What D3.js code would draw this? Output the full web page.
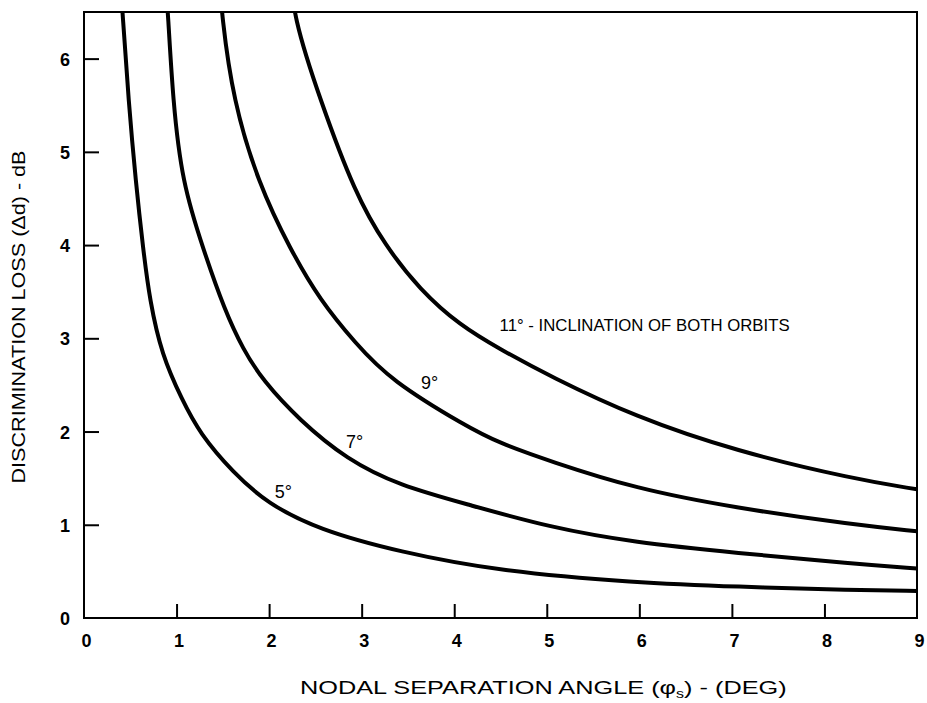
<!DOCTYPE html>
<html>
<head>
<meta charset="utf-8">
<script src="https://cdn.jsdelivr.net/npm/d3@7"></script>
<style>
  body { margin: 0; background: #fff; }
  text { font-family: "Liberation Sans", Arial, Helvetica, sans-serif; fill: #000; }
</style>
</head>
<body>
<svg id="chart" width="927" height="703"></svg>
<script>
// ---- data ----
const xTicks = [0, 1, 2, 3, 4, 5, 6, 7, 8, 9];
const yTicks = [0, 1, 2, 3, 4, 5, 6];

const curve5 = [[0.42,6.45],[0.48,5.56],[0.56,4.67],[0.64,3.95],[0.71,3.41],[0.84,2.82],[1.06,2.34],[1.25,1.98],[1.61,1.56],[1.98,1.23],[2.53,0.95],[3.40,0.71],[4.50,0.50],[5.95,0.38],[7.05,0.335],[8.32,0.30],[9.0,0.29]];
const curve7 = [[0.91,6.45],[0.96,5.56],[1.06,4.67],[1.29,3.95],[1.52,3.30],[1.72,2.88],[1.93,2.55],[2.33,2.12],[2.84,1.70],[3.41,1.42],[4.14,1.22],[5.04,0.97],[5.95,0.81],[7.04,0.70],[8.32,0.58],[9.0,0.53]];
const curve9 = [[1.49,6.45],[1.61,5.56],[1.88,4.67],[2.23,3.95],[2.55,3.41],[2.93,2.95],[3.31,2.55],[4.14,2.05],[4.48,1.88],[5.04,1.68],[5.95,1.39],[7.04,1.18],[8.32,1.00],[9.0,0.93]];
const curve11 = [[2.26,6.45],[2.55,5.56],[2.93,4.55],[3.25,4.00],[3.63,3.52],[4.06,3.14],[4.50,2.88],[5.04,2.59],[5.95,2.16],[7.04,1.79],[8.32,1.49],[9.0,1.38]];

const curveLabels = ["5°", "7°", "9°", "11° - INCLINATION OF BOTH ORBITS"];
const labelAnchors = [[2.06, 1.29], [2.83, 1.82], [3.64, 2.46], [4.49, 3.08]];

const xTitle = "NODAL SEPARATION ANGLE (";
const yTitle = "DISCRIMINATION LOSS (Δd) - dB";

// ---- layout ----
const svg = d3.select("#chart");
const pLeft = 84, pRight = 917, pTop = 12, pBottom = 618;

const x = d3.scaleLinear().domain([0, 9]).range([pLeft, pRight]);
const y = d3.scaleLinear().domain([0, 6.5]).range([pBottom, pTop]);

// clip
svg.append("defs").append("clipPath").attr("id", "plotClip")
  .append("rect").attr("x", pLeft).attr("y", pTop)
  .attr("width", pRight - pLeft).attr("height", pBottom - pTop);

// frame
svg.append("rect")
  .attr("x", pLeft).attr("y", pTop)
  .attr("width", pRight - pLeft).attr("height", pBottom - pTop)
  .attr("fill", "none").attr("stroke", "#000").attr("stroke-width", 2);

// y axis (ticks inward)
const yAxis = svg.append("g").attr("transform", `translate(${pLeft},0)`)
  .call(d3.axisLeft(y).tickValues(yTicks).tickSize(-15).tickSizeOuter(0).tickFormat(d3.format("d")));
yAxis.select(".domain").remove();
yAxis.selectAll(".tick line").attr("stroke", "#000").attr("stroke-width", 2)
  .filter(d => d === 0).remove();
yAxis.selectAll(".tick text").attr("font-size", 18).attr("font-weight", "bold")
  .attr("x", -14).attr("dy", "0.36em");

// x axis (ticks inward)
const xAxis = svg.append("g").attr("transform", `translate(0,${pBottom})`)
  .call(d3.axisBottom(x).tickValues(xTicks).tickSize(-14).tickSizeOuter(0).tickFormat(d3.format("d")));
xAxis.select(".domain").remove();
xAxis.selectAll(".tick line").attr("stroke", "#000").attr("stroke-width", 2)
  .filter(d => d === 0 || d === 9).remove();
xAxis.selectAll(".tick text").attr("font-size", 18).attr("font-weight", "bold")
  .attr("y", 16).attr("dy", "0.71em")
  .attr("dx", 2);

// curves
const line = d3.line().x(d => x(d[0])).y(d => y(d[1])).curve(d3.curveBasis);
const g = svg.append("g").attr("clip-path", "url(#plotClip)");
[curve5, curve7, curve9, curve11].forEach(c => {
  const ext = [[c[0][0] - 0.04, 7.0]].concat(c);
  g.append("path").datum(ext)
    .attr("d", line)
    .attr("fill", "none").attr("stroke", "#000")
    .attr("stroke-width", 4).attr("stroke-linejoin", "round");
});

// curve labels
curveLabels.forEach((t, i) => {
  const tx = svg.append("text")
    .attr("x", x(labelAnchors[i][0])).attr("y", y(labelAnchors[i][1]))
    .attr("font-size", 18)
    .text(t);
  if (i === 3) tx.attr("font-size", 17).attr("textLength", 290).attr("lengthAdjust", "spacingAndGlyphs");
});

// x title
const xt = svg.append("text").attr("x", 300).attr("y", 694)
  .attr("font-size", 19);
xt.append("tspan").text(xTitle);
xt.append("tspan").text("φ");
xt.append("tspan").attr("font-size", 12).attr("dy", 4).text("s");
xt.append("tspan").attr("dy", -4).text(") - (DEG)");
// stretch to the reference's width
const xtw = xt.node().getComputedTextLength();
xt.attr("transform", `translate(300,0) scale(${487 / xtw},1) translate(-300,0)`);

// y title
svg.append("text")
  .attr("transform", "translate(25,317) rotate(-90)")
  .attr("text-anchor", "middle").attr("font-size", 19)
  .attr("textLength", 333).attr("lengthAdjust", "spacingAndGlyphs")
  .text(yTitle);
</script>
</body>
</html>
